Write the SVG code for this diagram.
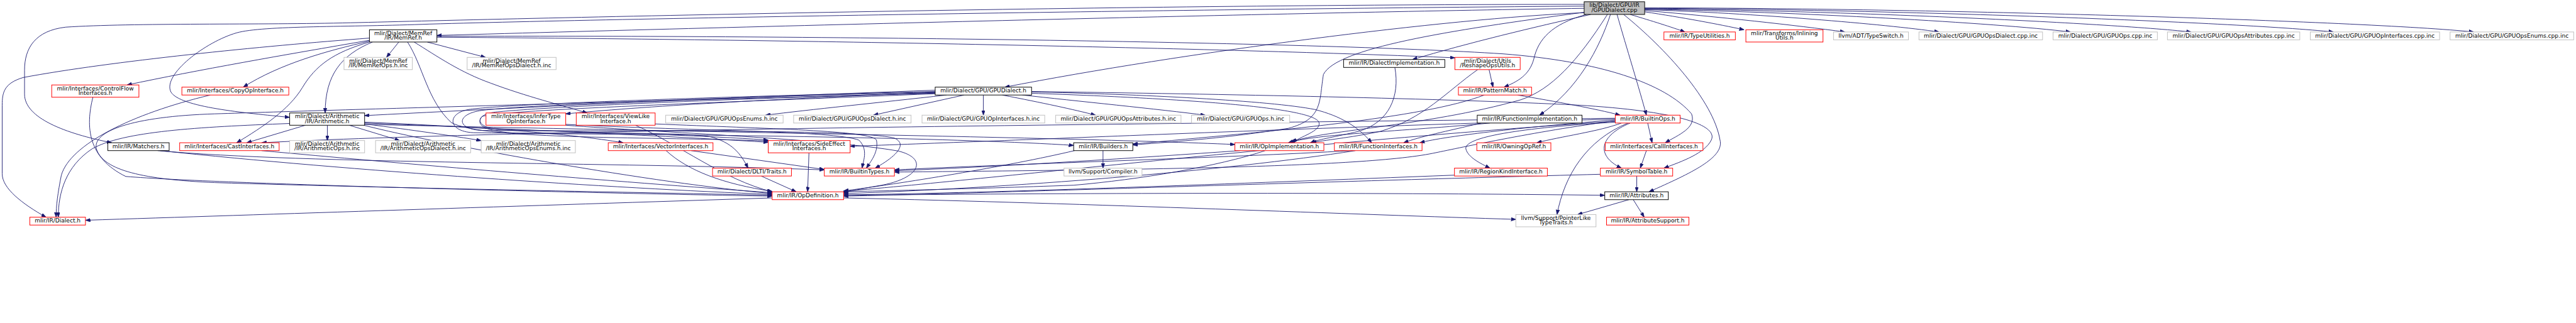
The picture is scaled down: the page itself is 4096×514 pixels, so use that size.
<svg xmlns="http://www.w3.org/2000/svg" width="4096" height="514" viewBox="0 0 4096 514">
<style>
.e{fill:none;stroke:#191970;stroke-width:1.3;marker-end:url(#ah)}
.n rect{fill:#fff;stroke-width:1.4}
.r rect{stroke:#ff0000}
.g rect{stroke:#bfbfbf}
.b rect{stroke:#000}
#n_root rect{fill:#bfbfbf;stroke:#000}
text{font-family:"DejaVu Sans","Liberation Sans",sans-serif;font-size:13px;fill:#000;text-anchor:middle}
</style>
<defs>
<marker id="ah" viewBox="0 0 11 8" refX="11" refY="4" markerWidth="11" markerHeight="8" orient="auto" markerUnits="userSpaceOnUse"><path d="M0,0L11,4L0,8z" fill="#191970" stroke="#191970" stroke-width="1"/></marker>
</defs>
<rect width="4096" height="514" fill="#fff"/>
<g transform="scale(0.6968)">
<g id="edges">
<path class="e" d="M3720,33 C3770,48 3815,62 3845,73"/>
<path class="e" d="M3753,27 C3840,40 3920,55 3980,68"/>
<path class="e" d="M3753,24 C3920,38 4100,58 4210,73"/>
<path class="e" d="M3753,22 C4000,30 4300,55 4425,73"/>
<path class="e" d="M3753,21 C4100,27 4550,52 4725,73"/>
<path class="e" d="M3753,20 C4200,24 4800,52 5000,73"/>
<path class="e" d="M3753,19 C4300,21 5100,50 5325,73"/>
<path class="e" d="M3753,18 C4400,18 5400,48 5645,73"/>
<path class="e" d="M3615,29 C3300,42 2700,120 2293,199"/>
<path class="e" d="M3615,19 C3000,28 1800,58 997,81"/>
<path class="e" d="M3615,14 C2800,20 1500,40 980,55 C800,62 600,58 540,75 C470,95 370,170 390,210 C410,245 560,258 661,268"/>
<path class="e" d="M3630,33 C3500,62 3350,98 3223,136"/>
<path class="e" d="M3620,33 C3540,55 3510,90 3500,135 C3490,172 3462,187 3432,199"/>
<path class="e" d="M3675,33 C3650,110 3600,205 3513,263"/>
<path class="e" d="M3690,33 C3712,110 3740,200 3757,263"/>
<path class="e" d="M3705,33 C3800,110 3910,230 3925,320 C3935,360 3860,395 3763,438"/>
<path class="e" d="M3615,28 C3300,70 3050,110 3020,170 C3010,230 3020,272 2940,293 C2800,315 2700,322 2585,331"/>
<path class="e" d="M3668,33 C3600,140 3540,205 3470,228 C3250,290 3000,298 2945,326"/>
<path class="e" d="M3615,10 C2500,10 1200,42 800,52 C600,57 300,52 150,62 C80,70 56,110 56,160 L56,215 C56,270 150,305 255,326"/>
<path class="e" d="M910,96 L882,131"/>
<path class="e" d="M975,96 L1108,131"/>
<path class="e" d="M850,96 C780,125 742,170 742,258"/>
<path class="e" d="M843,94 C750,115 640,145 555,199"/>
<path class="e" d="M843,96 C760,120 720,150 690,200 C660,250 600,290 540,326"/>
<path class="e" d="M843,92 C650,125 450,160 290,194"/>
<path class="e" d="M843,87 C600,105 250,140 53,177 C10,190 5,210 5,240 L5,397 C5,430 50,465 105,496"/>
<path class="e" d="M997,85 C1800,90 2800,110 3320,132"/>
<path class="e" d="M997,83 C1800,80 3000,95 3430,123 C3650,140 3800,190 3860,260 C3872,292 3830,308 3800,326"/>
<path class="e" d="M945,96 C1000,130 1050,165 1120,190 C1200,220 1280,240 1340,258"/>
<path class="e" d="M930,96 C965,150 975,230 1030,280 C1100,320 1500,312 1753,322"/>
<path class="e" d="M747,286 L747,321"/>
<path class="e" d="M797,286 L912,321"/>
<path class="e" d="M832,283 C950,298 1030,310 1098,321"/>
<path class="e" d="M697,286 L563,326"/>
<path class="e" d="M661,282 C450,290 280,300 210,340 C150,380 133,440 133,496"/>
<path class="e" d="M832,279 C1100,290 1300,305 1422,326"/>
<path class="e" d="M832,281 C1200,295 1600,315 1753,325"/>
<path class="e" d="M830,286 C1000,330 1500,420 1762,442"/>
<path class="e" d="M832,284 C1500,300 2400,312 2818,330"/>
<path class="e" d="M2134,206 C1600,225 1100,250 832,264"/>
<path class="e" d="M2160,217 C2000,235 1850,250 1747,263"/>
<path class="e" d="M2200,217 L1993,263"/>
<path class="e" d="M2244,217 L2244,263"/>
<path class="e" d="M2287,217 C2380,235 2450,250 2500,263"/>
<path class="e" d="M2333,217 C2450,230 2650,250 2750,263"/>
<path class="e" d="M2134,211 C1800,225 1500,240 1291,260"/>
<path class="e" d="M2134,209 C1600,222 1150,238 1070,250 C1020,258 1020,300 1080,303 C1300,306 1550,300 1620,312 C1670,325 1690,350 1707,384"/>
<path class="e" d="M2134,210 C1600,224 1200,240 1100,252 C1040,260 1040,295 1100,298 C1500,300 1950,295 2040,315 C2075,330 2040,360 1997,384"/>
<path class="e" d="M2134,212 C1600,228 1250,244 1130,256 C1080,262 1085,292 1140,296 C1400,302 1650,312 1753,320"/>
<path class="e" d="M2134,213 C1500,230 800,250 490,260 C300,266 210,300 220,340 C235,390 330,410 490,417 C900,430 1500,440 1762,446"/>
<path class="e" d="M2354,210 C2600,215 2900,230 3000,250 C3060,265 3100,290 3130,326"/>
<path class="e" d="M2354,209 C2800,215 3300,225 3600,240 C3850,255 3920,290 3905,320 C3890,350 3840,368 3797,384"/>
<path class="e" d="M2134,214 C1700,232 1150,250 1100,266 C1080,290 1120,303 1200,305 C1700,308 2200,316 2450,332"/>
<path class="e" d="M2354,213 C2700,225 3000,245 3010,280 C3015,300 2965,312 2950,326"/>
<path class="e" d="M480,217 C300,260 160,330 140,400 C132,440 128,470 128,496"/>
<path class="e" d="M1291,284 C1600,300 1900,298 1960,320 C1980,340 1972,362 1967,384"/>
<path class="e" d="M1495,283 C1750,294 1990,298 2000,320 C2005,345 1990,365 1977,384"/>
<path class="e" d="M1291,286 C1500,302 1900,318 2050,345 C2120,362 2100,410 2000,425 C1960,432 1945,436 1925,440"/>
<path class="e" d="M1450,286 C1550,330 1650,410 1762,438"/>
<path class="e" d="M212,222 C195,290 200,360 287,403 C500,420 1300,440 1762,448"/>
<path class="e" d="M360,344 C700,375 1400,370 1881,388"/>
<path class="e" d="M365,344 C800,390 1400,430 1762,444"/>
<path class="e" d="M597,344 C900,372 1400,415 1762,440"/>
<path class="e" d="M1520,344 C1570,390 1650,420 1762,437"/>
<path class="e" d="M1577,344 L1881,387"/>
<path class="e" d="M1846,349 L1843,438"/>
<path class="e" d="M1737,402 L1817,438"/>
<path class="e" d="M1762,452 C1200,470 600,490 195,503"/>
<path class="e" d="M1925,446 C2500,440 3200,440 3662,446"/>
<path class="e" d="M1925,452 C2500,465 3100,490 3459,501"/>
<path class="e" d="M2517,344 L2517,384"/>
<path class="e" d="M2452,344 C2300,380 2050,420 1925,436"/>
<path class="e" d="M2887,344 C2780,380 2600,410 2450,423 C2200,432 2000,436 1925,438"/>
<path class="e" d="M2830,344 C2600,360 2300,380 2041,390"/>
<path class="e" d="M3183,154 C3195,220 3170,280 3100,300 C3050,312 3010,318 2990,326"/>
<path class="e" d="M3372,159 C3300,210 3250,270 3150,300 C3080,315 3020,320 2993,326"/>
<path class="e" d="M3398,159 L3407,199"/>
<path class="e" d="M3387,217 C3250,270 2900,300 2585,329"/>
<path class="e" d="M3463,217 C3550,232 3640,248 3697,263"/>
<path class="e" d="M3380,281 C3300,300 3240,312 3203,326"/>
<path class="e" d="M3400,281 C3200,300 3000,306 2940,326"/>
<path class="e" d="M3085,344 C2800,360 2300,375 2041,388"/>
<path class="e" d="M3093,344 C2800,390 2300,430 1925,442"/>
<path class="e" d="M3686,276 C3500,300 3320,340 3270,350 C3100,385 2500,388 2041,393"/>
<path class="e" d="M3686,274 C3500,288 3300,310 3240,326"/>
<path class="e" d="M3700,281 C3650,300 3560,312 3507,326"/>
<path class="e" d="M3686,279 C3500,290 3340,310 3345,340 C3350,360 3380,374 3400,384"/>
<path class="e" d="M3760,281 L3770,326"/>
<path class="e" d="M3720,281 C3650,310 3640,355 3700,384"/>
<path class="e" d="M3715,281 C3620,320 3570,400 3553,490"/>
<path class="e" d="M3686,272 C3000,290 2300,322 1940,334"/>
<path class="e" d="M3686,270 C2500,285 1200,295 597,326"/>
<path class="e" d="M3686,277 C3000,322 2300,405 1925,437"/>
<path class="e" d="M3757,344 L3743,384"/>
<path class="e" d="M3735,402 L3735,438"/>
<path class="e" d="M3652,398 C3000,415 2300,440 1925,448"/>
<path class="e" d="M3319,400 C2800,420 2300,440 1925,445"/>
<path class="e" d="M3717,456 L3600,490"/>
<path class="e" d="M3727,456 L3752,496"/>
</g>
<g id="n_root" class="n"><rect x="3615" y="4" width="138" height="29"/><text x="3684" y="16.5">lib/Dialect/GPU/IR</text><text x="3684" y="27">/GPUDialect.cpp</text></g>
<g id="n_memref" class="n b"><rect x="843" y="68" width="154" height="28"/><text x="920" y="80">mlir/Dialect/MemRef</text><text x="920" y="90.7">/IR/MemRef.h</text></g>
<g id="n_typeutil" class="n r"><rect x="3797" y="73" width="163" height="18"/><text x="3878.5" y="85.5">mlir/IR/TypeUtilities.h</text></g>
<g id="n_inlining" class="n r"><rect x="3984" y="68" width="176" height="28"/><text x="4072" y="80">mlir/Transforms/Inlining</text><text x="4072" y="90.7">Utils.h</text></g>
<g id="n_typeswitch" class="n g"><rect x="4184" y="73" width="171" height="18"/><text x="4269.5" y="85.5">llvm/ADT/TypeSwitch.h</text></g>
<g id="n_opsdialectcpp" class="n g"><rect x="4379" y="73" width="282" height="18"/><text x="4520" y="85.5">mlir/Dialect/GPU/GPUOpsDialect.cpp.inc</text></g>
<g id="n_opscpp" class="n g"><rect x="4685" y="73" width="238" height="18"/><text x="4804" y="85.5">mlir/Dialect/GPU/GPUOps.cpp.inc</text></g>
<g id="n_attrcpp" class="n g"><rect x="4946" y="73" width="302" height="18"/><text x="5097" y="85.5">mlir/Dialect/GPU/GPUOpsAttributes.cpp.inc</text></g>
<g id="n_ifacecpp" class="n g"><rect x="5272" y="73" width="295" height="18"/><text x="5419.5" y="85.5">mlir/Dialect/GPU/GPUOpInterfaces.cpp.inc</text></g>
<g id="n_enumscpp" class="n g"><rect x="5591" y="73" width="282" height="18"/><text x="5732" y="85.5">mlir/Dialect/GPU/GPUOpsEnums.cpp.inc</text></g>
<g id="n_memrefops" class="n g"><rect x="785" y="131" width="156" height="28"/><text x="863" y="143">mlir/Dialect/MemRef</text><text x="863" y="153.7">/IR/MemRefOps.h.inc</text></g>
<g id="n_memrefdialect" class="n g"><rect x="1066" y="131" width="203" height="28"/><text x="1167.5" y="143">mlir/Dialect/MemRef</text><text x="1167.5" y="153.7">/IR/MemRefOpsDialect.h.inc</text></g>
<g id="n_dialectimpl" class="n b"><rect x="3066" y="136" width="231" height="18"/><text x="3181.5" y="148.5">mlir/IR/DialectImplementation.h</text></g>
<g id="n_reshape" class="n r"><rect x="3320" y="131" width="149" height="28"/><text x="3394.5" y="143">mlir/Dialect/Utils</text><text x="3394.5" y="153.7">/ReshapeOpsUtils.h</text></g>
<g id="n_controlflow" class="n r"><rect x="118" y="194" width="199" height="28"/><text x="217.5" y="206">mlir/Interfaces/ControlFlow</text><text x="217.5" y="216.7">Interfaces.h</text></g>
<g id="n_copyop" class="n r"><rect x="415" y="199" width="244" height="18"/><text x="537" y="211.5">mlir/Interfaces/CopyOpInterface.h</text></g>
<g id="n_gpudialect" class="n b"><rect x="2134" y="199" width="220" height="18"/><text x="2244" y="211.5">mlir/Dialect/GPU/GPUDialect.h</text></g>
<g id="n_pattern" class="n r"><rect x="3328" y="199" width="167" height="18"/><text x="3411.5" y="211.5">mlir/IR/PatternMatch.h</text></g>
<g id="n_arith" class="n b"><rect x="661" y="258" width="171" height="28"/><text x="746.5" y="270">mlir/Dialect/Arithmetic</text><text x="746.5" y="280.7">/IR/Arithmetic.h</text></g>
<g id="n_infer" class="n r"><rect x="1109" y="258" width="182" height="28"/><text x="1200" y="270">mlir/Interfaces/InferType</text><text x="1200" y="280.7">OpInterface.h</text></g>
<g id="n_viewlike" class="n r"><rect x="1315" y="258" width="180" height="28"/><text x="1405" y="270">mlir/Interfaces/ViewLike</text><text x="1405" y="280.7">Interface.h</text></g>
<g id="n_enumsh" class="n g"><rect x="1519" y="263" width="268" height="18"/><text x="1653" y="275.5">mlir/Dialect/GPU/GPUOpsEnums.h.inc</text></g>
<g id="n_opsdialecth" class="n g"><rect x="1811" y="263" width="268" height="18"/><text x="1945" y="275.5">mlir/Dialect/GPU/GPUOpsDialect.h.inc</text></g>
<g id="n_ifaceh" class="n g"><rect x="2104" y="263" width="280" height="18"/><text x="2244" y="275.5">mlir/Dialect/GPU/GPUOpInterfaces.h.inc</text></g>
<g id="n_attrh" class="n g"><rect x="2409" y="263" width="286" height="18"/><text x="2552" y="275.5">mlir/Dialect/GPU/GPUOpsAttributes.h.inc</text></g>
<g id="n_opsh" class="n g"><rect x="2719" y="263" width="224" height="18"/><text x="2831" y="275.5">mlir/Dialect/GPU/GPUOps.h.inc</text></g>
<g id="n_funcimpl" class="n b"><rect x="3371" y="263" width="239" height="18"/><text x="3490.5" y="275.5">mlir/IR/FunctionImplementation.h</text></g>
<g id="n_builtinops" class="n r"><rect x="3686" y="263" width="148" height="18"/><text x="3760" y="275.5">mlir/IR/BuiltinOps.h</text></g>
<g id="n_matchers" class="n b"><rect x="246" y="326" width="140" height="18"/><text x="316" y="338.5">mlir/IR/Matchers.h</text></g>
<g id="n_cast" class="n r"><rect x="410" y="326" width="227" height="18"/><text x="523.5" y="338.5">mlir/Interfaces/CastInterfaces.h</text></g>
<g id="n_arithops" class="n g"><rect x="661" y="321" width="171" height="28"/><text x="746.5" y="333">mlir/Dialect/Arithmetic</text><text x="746.5" y="343.7">/IR/ArithmeticOps.h.inc</text></g>
<g id="n_arithdialect" class="n g"><rect x="857" y="321" width="217" height="28"/><text x="965.5" y="333">mlir/Dialect/Arithmetic</text><text x="965.5" y="343.7">/IR/ArithmeticOpsDialect.h.inc</text></g>
<g id="n_arithenums" class="n g"><rect x="1098" y="321" width="215" height="28"/><text x="1205.5" y="333">mlir/Dialect/Arithmetic</text><text x="1205.5" y="343.7">/IR/ArithmeticOpsEnums.h.inc</text></g>
<g id="n_vector" class="n r"><rect x="1388" y="326" width="239" height="18"/><text x="1507.5" y="338.5">mlir/Interfaces/VectorInterfaces.h</text></g>
<g id="n_sideeffect" class="n r"><rect x="1753" y="321" width="187" height="28"/><text x="1846.5" y="333">mlir/Interfaces/SideEffect</text><text x="1846.5" y="343.7">Interfaces.h</text></g>
<g id="n_builders" class="n b"><rect x="2450" y="326" width="135" height="18"/><text x="2517.5" y="338.5">mlir/IR/Builders.h</text></g>
<g id="n_opimpl" class="n r"><rect x="2818" y="326" width="203" height="18"/><text x="2919.5" y="338.5">mlir/IR/OpImplementation.h</text></g>
<g id="n_funciface" class="n r"><rect x="3045" y="326" width="200" height="18"/><text x="3145" y="338.5">mlir/IR/FunctionInterfaces.h</text></g>
<g id="n_owning" class="n r"><rect x="3370" y="326" width="169" height="18"/><text x="3454.5" y="338.5">mlir/IR/OwningOpRef.h</text></g>
<g id="n_call" class="n r"><rect x="3663" y="326" width="223" height="18"/><text x="3774.5" y="338.5">mlir/Interfaces/CallInterfaces.h</text></g>
<g id="n_dlti" class="n r"><rect x="1626" y="384" width="180" height="18"/><text x="1716" y="396.5">mlir/Dialect/DLTI/Traits.h</text></g>
<g id="n_builtintypes" class="n r"><rect x="1881" y="384" width="160" height="18"/><text x="1961" y="396.5">mlir/IR/BuiltinTypes.h</text></g>
<g id="n_compiler" class="n g"><rect x="2428" y="384" width="178" height="18"/><text x="2517" y="396.5">llvm/Support/Compiler.h</text></g>
<g id="n_regionkind" class="n r"><rect x="3319" y="384" width="212" height="18"/><text x="3425" y="396.5">mlir/IR/RegionKindInterface.h</text></g>
<g id="n_symbol" class="n r"><rect x="3652" y="384" width="165" height="18"/><text x="3734.5" y="396.5">mlir/IR/SymbolTable.h</text></g>
<g id="n_opdef" class="n r"><rect x="1762" y="438" width="163" height="18"/><text x="1843.5" y="450.5">mlir/IR/OpDefinition.h</text></g>
<g id="n_attributes" class="n b"><rect x="3662" y="438" width="145" height="18"/><text x="3734.5" y="450.5">mlir/IR/Attributes.h</text></g>
<g id="n_dialect" class="n r"><rect x="68" y="496" width="127" height="18"/><text x="131.5" y="508.5">mlir/IR/Dialect.h</text></g>
<g id="n_pointerlike" class="n g"><rect x="3459" y="490" width="183" height="28"/><text x="3550.5" y="502">llvm/Support/PointerLike</text><text x="3550.5" y="512.7">TypeTraits.h</text></g>
<g id="n_attrsupport" class="n r"><rect x="3666" y="496" width="188" height="18"/><text x="3760" y="508.5">mlir/IR/AttributeSupport.h</text></g>
</g>
</svg>
